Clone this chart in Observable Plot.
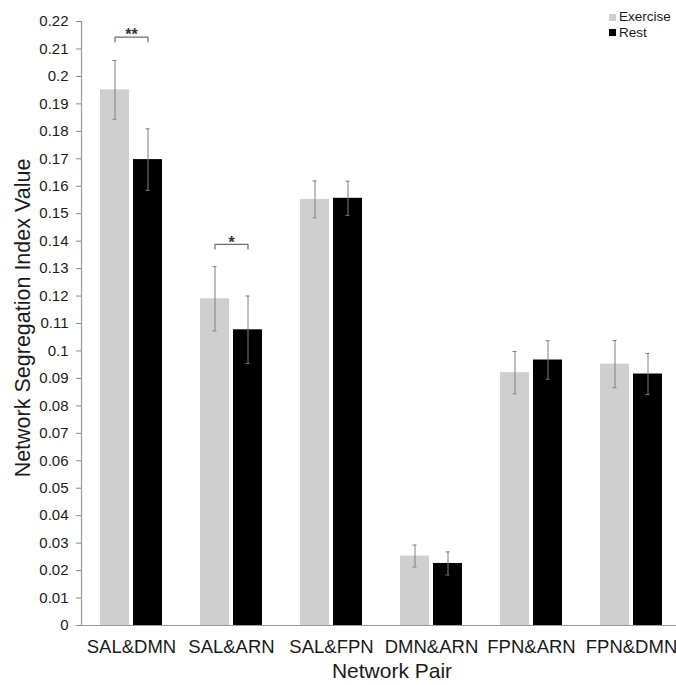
<!DOCTYPE html>
<html>
<head>
<meta charset="utf-8">
<script src="https://cdn.jsdelivr.net/npm/d3@7"></script>
<script src="https://cdn.jsdelivr.net/npm/@observablehq/plot@0.6"></script>
<style>
  html, body { margin: 0; padding: 0; overflow: hidden; background: #fff; width: 676px; }
  #wrap { position: relative; width: 676px; height: 685px; overflow: hidden; font-family: "Liberation Sans", Arial, sans-serif; }
  #wrap svg { display: block; max-width: none !important; width: 681px !important; height: 685px !important; }
  .legend { position: absolute; left: 609px; top: 10px; font-size: 13.5px; color: #1a1a1a; line-height: 14px; white-space: nowrap; }
  .legend .item { position: relative; height: 15.5px; padding-left: 10px; }
  .legend .sw { position: absolute; left: 0; top: 3.5px; width: 7px; height: 7px; }
  .ytitle { position: absolute; left: 22.5px; top: 318px; width: 420px; margin-left: -210px; margin-top: -11px; height: 22px; line-height: 22px; font-size: 21.5px; text-align: center; transform: rotate(-90deg); color: #1a1a1a; white-space: nowrap; }
  .xtitle { position: absolute; left: 392px; top: 660px; width: 300px; margin-left: -150px; font-size: 21px; line-height: 21px; text-align: center; color: #1a1a1a; white-space: nowrap; }
</style>
</head>
<body>
<div id="wrap"></div>
<script>
// ---- data ----
const pairs = ["SAL&DMN", "SAL&ARN", "SAL&FPN", "DMN&ARN", "FPN&ARN", "FPN&DMN"];
const groups = ["Exercise", "Rest"];
const exercise    = [0.1951, 0.1190, 0.1552, 0.0253, 0.0921, 0.0952];
const exerciseErr = [0.0107, 0.0117, 0.0067, 0.0040, 0.0077, 0.0086];
const rest        = [0.1697, 0.1077, 0.1556, 0.0226, 0.0967, 0.0916];
const restErr     = [0.0112, 0.0123, 0.0062, 0.0042, 0.0070, 0.0075];
const sigPairs  = ["SAL&DMN", "SAL&ARN"];
const sigLevels = [0.2143, 0.1388];
const sigLabels = ["**", "*"];
const yTickLabels = ["0","0.01","0.02","0.03","0.04","0.05","0.06","0.07","0.08","0.09","0.1",
  "0.11","0.12","0.13","0.14","0.15","0.16","0.17","0.18","0.19","0.2","0.21","0.22"];
const colors = ["#cfcfcf", "#000000"];

// ---- tables built from the arrays ----
const data = pairs.flatMap((p, i) => [
  {pair: p, group: groups[0], value: exercise[i], err: exerciseErr[i]},
  {pair: p, group: groups[1], value: rest[i], err: restErr[i]}
]);
const bracketDrop = 0.0017;
const brackets = sigPairs.flatMap((p, i) => [
  {pair: p, group: groups[0], y: sigLevels[i] - bracketDrop, id: i},
  {pair: p, group: groups[0], y: sigLevels[i], id: i},
  {pair: p, group: groups[1], y: sigLevels[i], id: i},
  {pair: p, group: groups[1], y: sigLevels[i] - bracketDrop, id: i}
]);
const sig = sigPairs.map((p, i) => ({pair: p, y: sigLevels[i], label: sigLabels[i]}));

const chart = Plot.plot({
  width: 681,
  height: 685,
  marginTop: 21,
  marginBottom: 60,
  marginLeft: 80,
  marginRight: 0,
  style: {fontFamily: "'Liberation Sans', Arial, sans-serif", fontSize: "15px", color: "#1a1a1a", background: "#fff"},
  fx: {domain: pairs, padding: 0, label: null},
  x: {domain: groups, paddingInner: 0.1176, paddingOuter: 0.53, axis: null},
  y: {domain: [0, 0.22], label: null, axis: null},
  color: {domain: groups, range: colors},
  marks: [
    Plot.barY(data, {fx: "pair", x: "group", y: "value", fill: "group"}),
    Plot.ruleX(data, {fx: "pair", x: "group", y1: d => d.value - d.err, y2: d => d.value + d.err, stroke: "#7f7f7f", strokeWidth: 1}),
    Plot.tickY(data, {fx: "pair", x: "group", y: d => d.value + d.err, stroke: "#7f7f7f", insetLeft: 12.5, insetRight: 12.5}),
    Plot.tickY(data, {fx: "pair", x: "group", y: d => d.value - d.err, stroke: "#7f7f7f", insetLeft: 12.5, insetRight: 12.5}),
    Plot.ruleY([0], {stroke: "#9a9a9a", strokeWidth: 1.2}),
    Plot.frame({anchor: "left", facetAnchor: "left", stroke: "#9a9a9a", strokeWidth: 1.2}),
    Plot.axisY({
      ticks: yTickLabels.map(Number),
      tickFormat: (d, i) => yTickLabels[i],
      tickSize: 5, tickPadding: 8, stroke: "#8a8a8a", fill: "#1a1a1a", fontSize: 15, label: null
    }),
    Plot.axisFx({anchor: "bottom", tickSize: 0, tickPadding: 14, fontSize: 18.5, fill: "#1a1a1a", label: null}),
    Plot.line(brackets, {fx: "pair", x: "group", y: "y", z: "id", stroke: "#6e6e6e", strokeWidth: 1.2}),
    Plot.text(sig, {fx: "pair", y: "y", text: "label", dy: -2, fontSize: 16, fontWeight: "bold", fill: "#333"})
  ]
});

const wrap = document.getElementById("wrap");
wrap.appendChild(chart);

const legend = document.createElement("div");
legend.className = "legend";
groups.forEach((g, i) => {
  const item = document.createElement("div");
  item.className = "item";
  const sw = document.createElement("span");
  sw.className = "sw";
  sw.style.background = colors[i];
  item.appendChild(sw);
  item.appendChild(document.createTextNode(g));
  legend.appendChild(item);
});
wrap.appendChild(legend);

const yt = document.createElement("div");
yt.className = "ytitle";
yt.textContent = "Network Segregation Index Value";
wrap.appendChild(yt);

const xt = document.createElement("div");
xt.className = "xtitle";
xt.textContent = "Network Pair";
wrap.appendChild(xt);
</script>
</body>
</html>
